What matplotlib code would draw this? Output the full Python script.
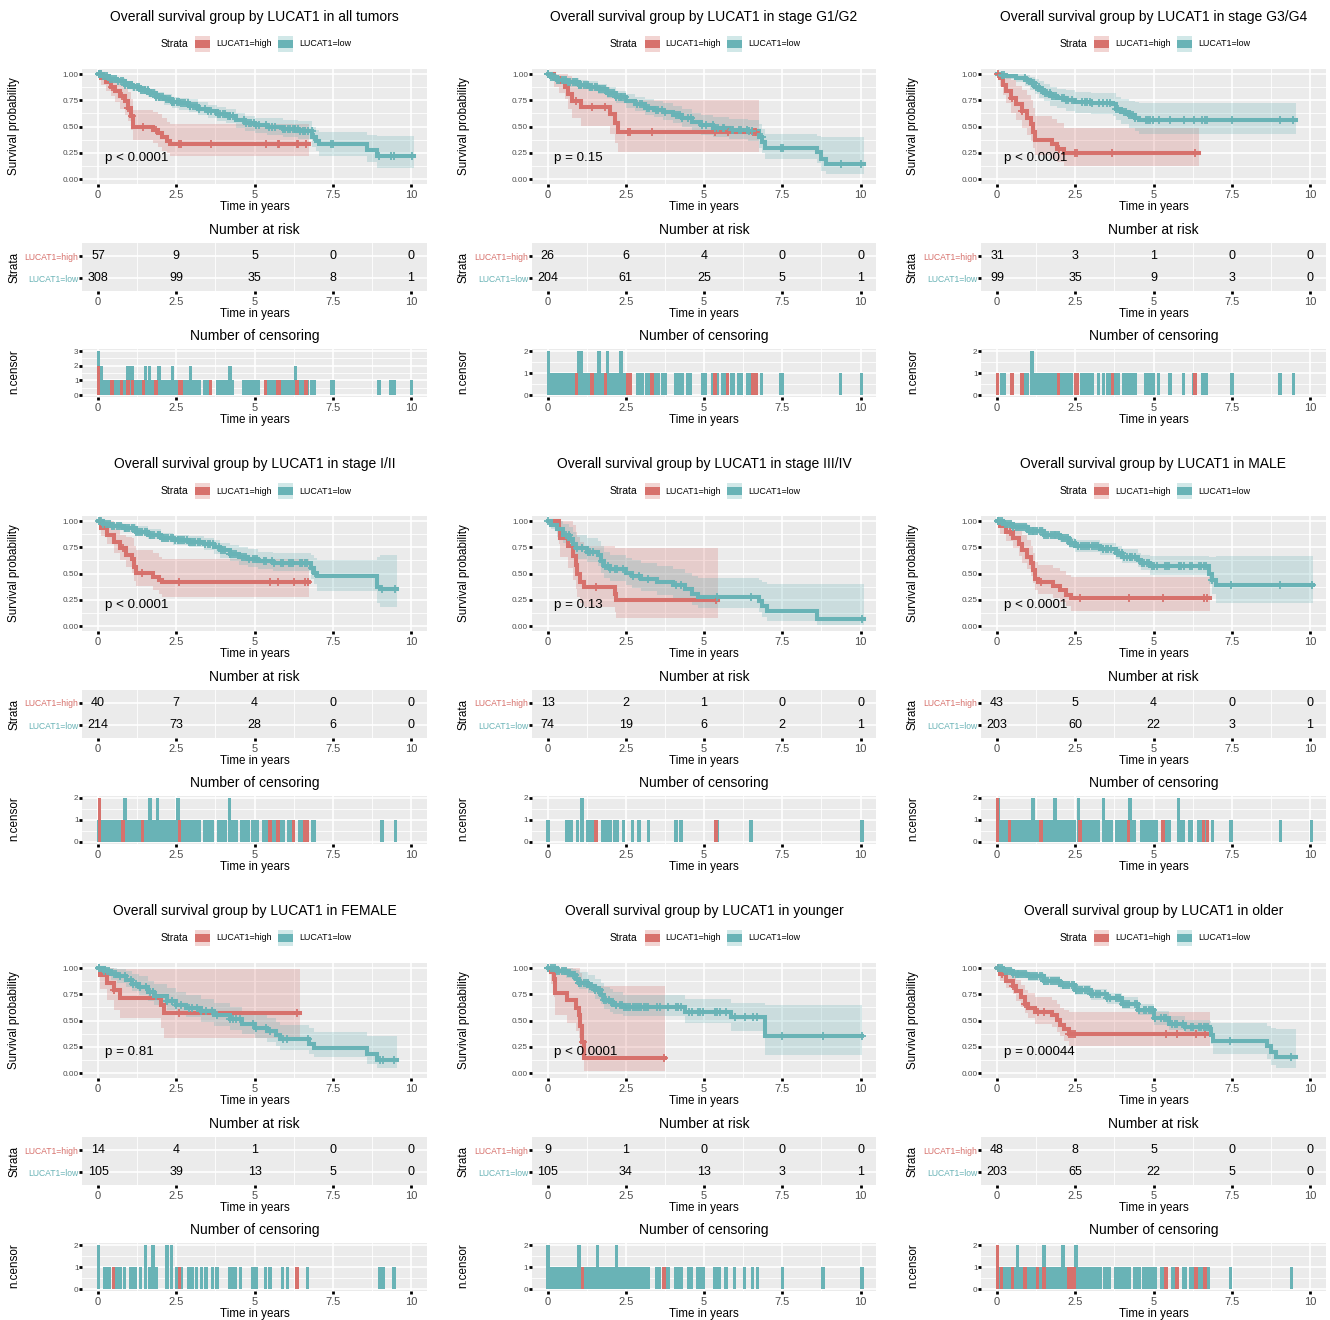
import numpy as np
import matplotlib.pyplot as plt
from matplotlib.patches import Rectangle

plt.rcParams['font.family'] = ['Liberation Sans', 'DejaVu Sans']

W, H = 1330, 1320
RED = '#D7716C'
TEAL = '#69B3B6'
BG = '#EBEBEB'
GREY = '#4D4D4D'

titles = ['Overall survival group by LUCAT1 in all tumors',
          'Overall survival group by LUCAT1 in stage G1/G2',
          'Overall survival group by LUCAT1 in stage G3/G4',
          'Overall survival group by LUCAT1 in stage I/II',
          'Overall survival group by LUCAT1 in stage III/IV',
          'Overall survival group by LUCAT1 in MALE',
          'Overall survival group by LUCAT1 in FEMALE',
          'Overall survival group by LUCAT1 in younger',
          'Overall survival group by LUCAT1 in older']
pvals = ['p < 0.0001', 'p = 0.15', 'p < 0.0001',
         'p < 0.0001', 'p = 0.13', 'p < 0.0001',
         'p = 0.81', 'p < 0.0001', 'p = 0.00044']

# number at risk at 0, 2.5, 5, 7.5, 10
risk_high = [[57, 9, 5, 0, 0], [26, 6, 4, 0, 0], [31, 3, 1, 0, 0],
             [40, 7, 4, 0, 0], [13, 2, 1, 0, 0], [43, 5, 4, 0, 0],
             [14, 4, 1, 0, 0], [9, 1, 0, 0, 0], [48, 8, 5, 0, 0]]
risk_low = [[308, 99, 35, 8, 1], [204, 61, 25, 5, 1], [99, 35, 9, 3, 0],
            [214, 73, 28, 6, 0], [74, 19, 6, 2, 1], [203, 60, 22, 3, 1],
            [105, 39, 13, 5, 0], [105, 34, 13, 3, 1], [203, 65, 22, 5, 0]]

# KM step knots (time where survival changes), survival, CI lower/upper, last follow-up
high_t = [[0, 0.1, 0.25, 0.4, 0.55, 0.7, 0.85, 0.95, 1.05, 1.12, 1.75, 1.9, 2.05, 2.2, 2.3],
          [0, 0.2, 0.35, 0.55, 0.65, 0.78, 1.08, 2.0, 2.15, 2.25],
          [0, 0.1, 0.2, 0.3, 0.45, 0.6, 0.8, 0.95, 1.1, 1.15, 1.2, 1.75, 1.9, 2.15],
          [0, 0.1, 0.3, 0.5, 0.7, 0.9, 1.1, 1.15, 1.2, 1.75, 1.95, 2.05],
          [0, 0.35, 0.4, 0.65, 0.8, 0.9, 0.95, 1.05, 1.15, 2.15, 2.2],
          [0, 0.1, 0.3, 0.5, 0.7, 0.8, 0.95, 1.1, 1.15, 1.2, 1.3, 1.8, 2.0, 2.2, 2.35],
          [0, 0.05, 0.3, 0.5, 0.7, 2.0, 2.1],
          [0, 0.12, 0.2, 0.25, 0.62, 0.9, 1.0, 1.05, 1.1, 1.15],
          [0, 0.1, 0.3, 0.5, 0.6, 0.75, 0.9, 1.0, 1.2, 1.75, 1.9, 2.0, 2.15, 2.3]]
high_s = [[1.0, 0.96, 0.92, 0.88, 0.84, 0.79, 0.74, 0.68, 0.60, 0.50, 0.47, 0.44, 0.40, 0.36, 0.33],
          [1.0, 0.96, 0.92, 0.88, 0.81, 0.74, 0.69, 0.62, 0.53, 0.445],
          [1.0, 0.96, 0.90, 0.84, 0.77, 0.71, 0.65, 0.58, 0.52, 0.45, 0.37, 0.33, 0.29, 0.25],
          [1.0, 0.93, 0.87, 0.80, 0.74, 0.68, 0.64, 0.56, 0.51, 0.47, 0.44, 0.42],
          [1.0, 0.92, 0.84, 0.76, 0.67, 0.58, 0.50, 0.42, 0.37, 0.31, 0.25],
          [1.0, 0.95, 0.90, 0.84, 0.78, 0.72, 0.66, 0.60, 0.53, 0.45, 0.42, 0.38, 0.34, 0.30, 0.27],
          [1.0, 0.93, 0.86, 0.79, 0.71, 0.65, 0.575],
          [1.0, 0.96, 0.90, 0.76, 0.70, 0.62, 0.55, 0.45, 0.30, 0.14],
          [1.0, 0.94, 0.88, 0.83, 0.78, 0.72, 0.66, 0.62, 0.58, 0.55, 0.505, 0.46, 0.42, 0.37]]
high_lo = [[1.0, 0.90, 0.84, 0.79, 0.73, 0.67, 0.61, 0.55, 0.47, 0.37, 0.34, 0.31, 0.27, 0.25, 0.22],
           [1.0, 0.88, 0.82, 0.76, 0.67, 0.58, 0.51, 0.43, 0.34, 0.26],
           [1.0, 0.89, 0.80, 0.72, 0.63, 0.56, 0.49, 0.42, 0.36, 0.30, 0.23, 0.19, 0.16, 0.12],
           [1.0, 0.86, 0.78, 0.70, 0.63, 0.56, 0.51, 0.43, 0.38, 0.34, 0.31, 0.28],
           [1.0, 0.78, 0.66, 0.55, 0.44, 0.35, 0.28, 0.22, 0.18, 0.13, 0.08],
           [1.0, 0.88, 0.81, 0.74, 0.67, 0.60, 0.54, 0.48, 0.41, 0.34, 0.31, 0.27, 0.23, 0.19, 0.14],
           [1.0, 0.80, 0.70, 0.60, 0.52, 0.43, 0.33],
           [1.0, 0.85, 0.72, 0.55, 0.48, 0.40, 0.33, 0.24, 0.12, 0.02],
           [1.0, 0.88, 0.81, 0.75, 0.69, 0.63, 0.57, 0.52, 0.47, 0.44, 0.39, 0.35, 0.31, 0.26]]
high_up = [[1.0, 1.0, 0.99, 0.96, 0.94, 0.91, 0.87, 0.83, 0.76, 0.66, 0.64, 0.62, 0.58, 0.54, 0.52],
           [1.0, 1.0, 1.0, 1.0, 0.98, 0.93, 0.88, 0.84, 0.78, 0.75],
           [1.0, 1.0, 1.0, 0.98, 0.94, 0.89, 0.85, 0.80, 0.75, 0.68, 0.60, 0.57, 0.53, 0.49],
           [1.0, 1.0, 1.0, 0.92, 0.87, 0.85, 0.84, 0.76, 0.72, 0.70, 0.66, 0.64],
           [1.0, 1.0, 1.0, 1.0, 0.96, 0.90, 0.85, 0.80, 0.76, 0.74, 0.74],
           [1.0, 1.0, 0.99, 0.96, 0.91, 0.87, 0.82, 0.76, 0.70, 0.61, 0.58, 0.55, 0.52, 0.49, 0.47],
           [1.0, 1.0, 1.0, 0.99, 0.99, 0.99, 0.99],
           [1.0, 1.0, 1.0, 1.0, 1.0, 1.0, 1.0, 0.95, 0.89, 0.83],
           [1.0, 1.0, 0.97, 0.93, 0.89, 0.84, 0.79, 0.76, 0.72, 0.70, 0.66, 0.62, 0.60, 0.58]]
high_end = [6.75, 6.75, 6.45, 6.75, 5.45, 6.8, 6.45, 3.75, 6.8]

low_t = [[0, 0.15, 0.35, 0.6, 0.85, 1.1, 1.35, 1.6, 1.85, 2.1, 2.35, 2.6, 2.9, 3.2, 3.5, 3.8, 4.1, 4.4, 4.7, 5.0, 5.4, 5.9, 6.4, 6.85, 6.95, 7.05, 8.6, 8.9],
         [0, 0.1, 0.3, 0.6, 1.0, 1.3, 1.6, 1.9, 2.2, 2.5, 2.8, 3.1, 3.4, 3.7, 4.0, 4.3, 4.6, 4.9, 5.3, 5.8, 6.4, 6.75, 6.85, 6.95, 8.6, 8.75, 8.9],
         [0, 0.1, 0.3, 0.6, 0.9, 1.05, 1.2, 1.35, 1.5, 1.7, 1.9, 2.2, 2.5, 3.0, 3.7, 3.8, 3.95, 4.2, 4.4, 4.55],
         [0, 0.15, 0.4, 0.8, 1.2, 1.6, 2.0, 2.4, 2.9, 3.4, 3.7, 3.9, 4.2, 4.5, 4.8, 5.1, 5.6, 6.8, 6.9, 7.0, 8.9, 9.0],
         [0, 0.1, 0.3, 0.5, 0.7, 0.8, 0.9, 1.25, 1.6, 1.7, 1.8, 2.0, 2.5, 2.7, 3.0, 3.5, 4.0, 4.4, 4.6, 4.8, 6.75, 6.85, 7.0, 8.6],
         [0, 0.2, 0.5, 1.0, 1.5, 2.0, 2.3, 2.5, 3.3, 3.8, 4.0, 4.5, 4.6, 4.9, 6.78, 6.88, 7.0],
         [0, 0.2, 0.4, 0.6, 0.9, 1.1, 1.3, 1.6, 1.8, 2.2, 2.5, 2.8, 3.3, 3.7, 4.2, 4.6, 5.0, 5.4, 5.7, 5.8, 6.75, 6.9, 8.6, 8.9],
         [0, 0.3, 0.6, 0.8, 0.9, 1.0, 1.3, 1.5, 1.7, 1.8, 2.0, 2.1, 2.4, 4.4, 5.85, 6.95],
         [0, 0.2, 0.5, 1.0, 1.5, 2.0, 2.5, 3.0, 3.5, 4.0, 4.5, 5.0, 5.5, 6.0, 6.8, 6.85, 6.9, 8.62, 8.75, 8.9]]
low_s = [[1.0, 0.98, 0.95, 0.93, 0.90, 0.88, 0.85, 0.82, 0.78, 0.76, 0.73, 0.72, 0.70, 0.67, 0.65, 0.62, 0.60, 0.56, 0.53, 0.51, 0.50, 0.48, 0.46, 0.40, 0.36, 0.33, 0.28, 0.22],
         [1.0, 0.97, 0.94, 0.92, 0.90, 0.88, 0.86, 0.82, 0.78, 0.74, 0.71, 0.68, 0.66, 0.64, 0.61, 0.58, 0.54, 0.51, 0.49, 0.47, 0.46, 0.40, 0.35, 0.30, 0.26, 0.19, 0.14],
         [1.0, 0.99, 0.98, 0.96, 0.94, 0.91, 0.88, 0.85, 0.82, 0.79, 0.77, 0.75, 0.73, 0.72, 0.71, 0.67, 0.64, 0.61, 0.58, 0.56],
         [1.0, 0.97, 0.95, 0.93, 0.90, 0.87, 0.84, 0.82, 0.80, 0.78, 0.75, 0.72, 0.69, 0.66, 0.64, 0.62, 0.60, 0.55, 0.51, 0.48, 0.37, 0.35],
         [1.0, 0.96, 0.92, 0.87, 0.83, 0.78, 0.74, 0.71, 0.68, 0.62, 0.57, 0.54, 0.51, 0.48, 0.45, 0.42, 0.39, 0.35, 0.31, 0.28, 0.24, 0.19, 0.14, 0.07],
         [1.0, 0.97, 0.94, 0.91, 0.87, 0.84, 0.79, 0.76, 0.73, 0.70, 0.66, 0.63, 0.60, 0.57, 0.50, 0.44, 0.39],
         [1.0, 0.97, 0.94, 0.92, 0.89, 0.85, 0.82, 0.77, 0.73, 0.69, 0.65, 0.62, 0.59, 0.55, 0.51, 0.47, 0.43, 0.40, 0.36, 0.32, 0.28, 0.24, 0.18, 0.12],
         [1.0, 0.97, 0.95, 0.93, 0.90, 0.86, 0.83, 0.79, 0.74, 0.70, 0.675, 0.65, 0.63, 0.58, 0.53, 0.35],
         [1.0, 0.97, 0.94, 0.92, 0.88, 0.84, 0.79, 0.75, 0.71, 0.66, 0.60, 0.52, 0.47, 0.44, 0.42, 0.36, 0.31, 0.26, 0.20, 0.15]]
low_lo = [[1.0, 0.96, 0.93, 0.90, 0.87, 0.84, 0.81, 0.78, 0.74, 0.71, 0.68, 0.66, 0.64, 0.61, 0.58, 0.55, 0.53, 0.49, 0.46, 0.44, 0.42, 0.40, 0.38, 0.31, 0.27, 0.22, 0.16, 0.11],
          [1.0, 0.95, 0.91, 0.88, 0.86, 0.84, 0.81, 0.77, 0.72, 0.68, 0.65, 0.61, 0.59, 0.56, 0.53, 0.50, 0.46, 0.42, 0.40, 0.38, 0.36, 0.30, 0.25, 0.19, 0.15, 0.08, 0.05],
          [1.0, 0.97, 0.95, 0.92, 0.89, 0.85, 0.81, 0.77, 0.74, 0.70, 0.68, 0.65, 0.63, 0.62, 0.60, 0.56, 0.52, 0.49, 0.46, 0.43],
          [1.0, 0.95, 0.92, 0.90, 0.87, 0.83, 0.80, 0.77, 0.75, 0.72, 0.69, 0.65, 0.62, 0.58, 0.56, 0.54, 0.52, 0.45, 0.40, 0.33, 0.22, 0.18],
          [1.0, 0.92, 0.85, 0.79, 0.74, 0.69, 0.64, 0.61, 0.57, 0.51, 0.46, 0.43, 0.39, 0.36, 0.33, 0.30, 0.27, 0.23, 0.20, 0.17, 0.13, 0.09, 0.05, 0.01],
          [1.0, 0.95, 0.91, 0.88, 0.83, 0.80, 0.74, 0.71, 0.68, 0.64, 0.60, 0.56, 0.53, 0.49, 0.40, 0.31, 0.22],
          [1.0, 0.93, 0.89, 0.86, 0.82, 0.78, 0.74, 0.69, 0.65, 0.60, 0.56, 0.53, 0.49, 0.45, 0.41, 0.37, 0.33, 0.30, 0.26, 0.22, 0.18, 0.15, 0.09, 0.05],
          [1.0, 0.94, 0.91, 0.88, 0.84, 0.80, 0.76, 0.71, 0.66, 0.61, 0.58, 0.56, 0.54, 0.48, 0.40, 0.17],
          [1.0, 0.95, 0.91, 0.88, 0.84, 0.80, 0.74, 0.70, 0.66, 0.61, 0.55, 0.46, 0.41, 0.38, 0.35, 0.28, 0.18, 0.13, 0.08, 0.05]]
low_up = [[1.0, 1.0, 0.97, 0.96, 0.93, 0.91, 0.89, 0.86, 0.83, 0.81, 0.78, 0.77, 0.76, 0.73, 0.71, 0.69, 0.67, 0.63, 0.60, 0.58, 0.58, 0.56, 0.55, 0.50, 0.47, 0.45, 0.42, 0.41],
          [1.0, 1.0, 0.97, 0.96, 0.94, 0.93, 0.91, 0.88, 0.84, 0.81, 0.78, 0.76, 0.74, 0.72, 0.70, 0.67, 0.63, 0.61, 0.59, 0.57, 0.56, 0.52, 0.48, 0.43, 0.41, 0.40, 0.40],
          [1.0, 1.0, 1.0, 1.0, 0.99, 0.97, 0.95, 0.93, 0.91, 0.88, 0.86, 0.85, 0.83, 0.82, 0.82, 0.78, 0.76, 0.74, 0.73, 0.72],
          [1.0, 0.99, 0.98, 0.97, 0.95, 0.92, 0.89, 0.87, 0.86, 0.84, 0.82, 0.79, 0.77, 0.75, 0.73, 0.71, 0.70, 0.68, 0.65, 0.63, 0.66, 0.68],
          [1.0, 1.0, 1.0, 0.97, 0.94, 0.90, 0.87, 0.84, 0.81, 0.76, 0.71, 0.68, 0.65, 0.63, 0.60, 0.57, 0.54, 0.51, 0.48, 0.46, 0.44, 0.42, 0.40, 0.40],
          [1.0, 0.99, 0.97, 0.94, 0.91, 0.88, 0.84, 0.82, 0.79, 0.76, 0.73, 0.70, 0.68, 0.67, 0.66, 0.66, 0.67],
          [1.0, 1.0, 1.0, 0.99, 0.97, 0.94, 0.92, 0.88, 0.85, 0.81, 0.77, 0.74, 0.71, 0.67, 0.63, 0.59, 0.55, 0.52, 0.49, 0.46, 0.43, 0.39, 0.35, 0.35],
          [1.0, 1.0, 1.0, 0.99, 0.98, 0.96, 0.93, 0.90, 0.86, 0.82, 0.80, 0.77, 0.74, 0.71, 0.67, 0.65],
          [1.0, 1.0, 0.97, 0.95, 0.92, 0.88, 0.84, 0.80, 0.76, 0.72, 0.66, 0.59, 0.54, 0.51, 0.50, 0.48, 0.48, 0.45, 0.43, 0.42]]
low_end = [10.1, 10.1, 9.55, 9.55, 10.1, 10.1, 9.55, 10.05, 9.55]

# censoring times, one entry per censored patient
cens_high = [[0.02, 0.02, 0.45, 0.75, 0.95, 1.1, 1.45, 1.85, 2.6, 2.65, 3.6, 5.35, 5.75, 5.78, 6.35, 6.38, 6.65],
             [0.92, 1.42, 1.85, 2.57, 2.63, 3.33, 5.35, 5.75, 6.55, 6.62, 6.67],
             [0.02, 0.48, 0.8, 1.97, 2.5, 2.56, 3.68, 6.33],
             [0.05, 0.05, 0.8, 1.42, 2.6, 5.5, 5.75, 6.25, 6.6, 6.7],
             [1.55, 5.38],
             [0.02, 0.02, 0.4, 1.4, 2.65, 4.2, 5.3, 6.6, 6.72],
             [0.5, 2.6, 6.35],
             [1.12, 3.72],
             [0.02, 0.02, 0.15, 0.5, 0.9, 1.3, 1.5, 2.3, 2.36, 2.42, 2.48, 5.4, 5.75, 6.35, 6.65]]
cens_low = [[0.02, 0.02, 0.02, 0.09, 0.09, 0.16, 0.23, 0.3, 0.37, 0.44, 0.51, 0.58, 0.65, 0.72, 0.79, 0.86,
             0.95, 0.95, 1.02, 1.02, 1.09, 1.09, 1.16, 1.23, 1.3, 1.37, 1.44, 1.51, 1.51, 1.58, 1.65, 1.65,
             1.72, 1.79, 1.86, 1.95, 1.95, 2.02, 2.09, 2.16, 2.23, 2.3, 2.37, 2.37, 2.44, 2.51, 2.58, 2.65,
             2.72, 2.79, 2.86, 2.95, 2.95, 3.02, 3.09, 3.16, 3.23, 3.42, 3.5, 3.6, 3.82, 3.9, 3.98, 4.06,
             4.14, 4.22, 4.22, 4.3, 4.65, 4.73, 4.81, 4.89, 4.97, 5.05, 5.13, 5.38, 5.46, 5.56, 5.66, 5.9,
             5.98, 6.06, 6.14, 6.22, 6.3, 6.3, 6.38, 6.46, 6.54, 6.62, 6.7, 6.82, 6.9, 7.45, 7.52, 8.97,
             9.35, 9.45, 10.02],
            [0.03, 0.03, 0.1, 0.17, 0.24, 0.31, 0.38, 0.45, 0.52, 0.59, 0.66, 0.73, 0.8, 0.87, 0.94, 1.01,
             1.01, 1.08, 1.08, 1.15, 1.22, 1.29, 1.36, 1.43, 1.5, 1.57, 1.64, 1.64, 1.71, 1.78, 1.85, 1.92,
             1.92, 1.99, 2.06, 2.13, 2.2, 2.27, 2.34, 2.34, 2.41, 2.48, 2.87, 2.95, 3.03, 3.17, 3.23, 3.46,
             3.53, 3.67, 3.76, 4.1, 4.17, 4.24, 4.31, 4.48, 4.57, 4.95, 5.05, 5.27, 5.35, 5.43, 5.59, 5.65,
             5.88, 5.94, 6.12, 6.18, 6.38, 6.45, 6.53, 6.84, 7.46, 7.51, 9.36, 10.03],
            [0.15, 0.23, 0.88, 0.96, 1.12, 1.12, 1.19, 1.26, 1.33, 1.4, 1.47, 1.54, 1.61, 1.68, 1.75, 1.82,
             1.89, 2.07, 2.14, 2.21, 2.28, 2.38, 2.72, 2.8, 2.88, 2.96, 3.04, 3.25, 3.4, 3.52, 3.6, 3.8,
             3.88, 4.06, 4.13, 4.2, 4.27, 4.34, 4.41, 4.75, 4.82, 4.9, 4.98, 5.16, 5.53, 5.96, 6.28, 6.56,
             6.63, 6.7, 7.5, 9.04, 9.47],
            [0.03, 0.1, 0.17, 0.24, 0.31, 0.38, 0.45, 0.52, 0.59, 0.66, 0.73, 0.86, 0.86, 0.93, 1.0, 1.07,
             1.14, 1.21, 1.28, 1.35, 1.42, 1.49, 1.56, 1.66, 1.66, 1.73, 1.8, 1.9, 1.9, 1.97, 2.04, 2.11,
             2.18, 2.25, 2.32, 2.39, 2.46, 2.55, 2.55, 2.62, 2.69, 2.76, 2.83, 2.9, 2.97, 3.04, 3.11, 3.18,
             3.25, 3.42, 3.5, 3.58, 3.66, 3.85, 3.92, 4.0, 4.07, 4.2, 4.2, 4.27, 4.34, 4.41, 4.6, 4.67,
             4.74, 4.81, 4.95, 5.02, 5.09, 5.3, 5.37, 5.55, 5.62, 5.85, 5.92, 6.1, 6.17, 6.24, 6.45, 6.52,
             6.6, 6.67, 6.85, 6.92, 9.07, 9.5],
            [0.02, 0.6, 0.68, 0.76, 0.95, 1.1, 1.1, 1.28, 1.36, 1.46, 1.75, 1.83, 1.92, 2.0, 2.15, 2.23,
             2.42, 2.72, 2.92, 3.22, 4.1, 4.27, 5.42, 6.5, 10.05],
            [0.03, 0.03, 0.1, 0.17, 0.24, 0.31, 0.38, 0.45, 0.52, 0.59, 0.66, 0.73, 0.8, 0.87, 0.94, 1.01,
             1.08, 1.15, 1.15, 1.22, 1.29, 1.36, 1.43, 1.5, 1.57, 1.64, 1.71, 1.78, 1.85, 1.85, 1.92, 1.99,
             2.06, 2.13, 2.2, 2.27, 2.34, 2.41, 2.48, 2.6, 2.6, 2.67, 2.74, 2.81, 2.88, 2.95, 3.02, 3.09,
             3.16, 3.23, 3.4, 3.4, 3.48, 3.56, 3.64, 3.82, 3.9, 3.98, 4.06, 4.14, 4.25, 4.25, 4.32, 4.4,
             4.62, 4.7, 4.78, 4.86, 4.94, 5.02, 5.1, 5.35, 5.42, 5.5, 5.8, 5.8, 5.88, 5.96, 6.15, 6.22,
             6.45, 6.52, 6.6, 6.68, 6.88, 7.48, 9.05, 10.05],
            [0.02, 0.02, 0.2, 0.28, 0.36, 0.5, 0.58, 0.7, 0.85, 1.05, 1.12, 1.2, 1.35, 1.52, 1.52, 1.65,
             1.75, 1.75, 1.85, 2.2, 2.2, 2.35, 2.35, 2.5, 2.65, 2.9, 3.0, 3.15, 3.3, 3.45, 3.65, 3.8, 4.2,
             4.3, 4.4, 4.55, 4.95, 5.05, 5.35, 5.5, 5.9, 6.05, 6.7, 9.0, 9.1, 9.45],
            [0.02, 0.02, 0.1, 0.17, 0.24, 0.31, 0.38, 0.45, 0.52, 0.59, 0.66, 0.73, 0.8, 0.87, 0.94, 1.01,
             1.01, 1.08, 1.15, 1.22, 1.29, 1.36, 1.43, 1.5, 1.6, 1.6, 1.67, 1.74, 1.81, 1.88, 1.95, 2.02,
             2.09, 2.2, 2.2, 2.3, 2.37, 2.44, 2.51, 2.58, 2.65, 2.72, 2.79, 2.86, 2.93, 3.0, 3.07, 3.14,
             3.21, 3.5, 3.58, 3.85, 4.1, 4.18, 4.26, 4.52, 4.6, 4.8, 4.88, 4.96, 5.35, 5.42, 5.5, 5.7,
             5.98, 6.3, 6.55, 6.7, 7.5, 8.8, 10.05],
            [0.03, 0.1, 0.17, 0.24, 0.31, 0.38, 0.45, 0.52, 0.59, 0.66, 0.66, 0.73, 0.8, 0.87, 0.94, 1.01,
             1.08, 1.15, 1.22, 1.29, 1.36, 1.43, 1.5, 1.5, 1.57, 1.64, 1.71, 1.78, 1.85, 1.92, 1.99, 2.1,
             2.1, 2.17, 2.24, 2.31, 2.38, 2.45, 2.52, 2.52, 2.59, 2.66, 2.73, 2.8, 2.87, 2.94, 3.01, 3.08,
             3.15, 3.22, 3.29, 3.45, 3.52, 3.6, 3.8, 3.87, 3.94, 4.01, 4.08, 4.15, 4.22, 4.4, 4.47, 4.54,
             4.7, 4.77, 4.84, 4.91, 4.98, 5.05, 5.25, 5.32, 5.4, 5.6, 5.67, 5.74, 5.95, 6.02, 6.2, 6.27,
             6.45, 6.52, 6.6, 6.67, 6.74, 7.45, 9.4]]

xt = [0, 2.5, 5, 7.5, 10]
xtl = ['0', '2.5', '5', '7.5', '10']
xminor = [1.25, 3.75, 6.25, 8.75]

fig = plt.figure(figsize=(W / 100, H / 100), dpi=100)


def add_ax(x0, y0, x1, y1):
    return fig.add_axes([x0 / W, 1 - y1 / H, (x1 - x0) / W, (y1 - y0) / H])


def ftext(x, y, s, **kw):
    fig.text(x / W, 1 - y / H, s, **kw)


def key(x, y, c):
    fig.add_artist(Rectangle((x / W, 1 - (y + 16) / H), 15 / W, 16 / H,
                             transform=fig.transFigure, facecolor=c, alpha=0.3, lw=0))
    fig.add_artist(Rectangle((x / W, 1 - (y + 12) / H), 15 / W, 8 / H,
                             transform=fig.transFigure, facecolor=c, lw=0))


def base(ax, ymaj, ymin, xmaj_lines=True):
    ax.set_facecolor(BG)
    for sp in ax.spines.values():
        sp.set_visible(False)
    ax.set_xlim(-0.5, 10.5)
    for v in xminor:
        ax.axvline(v, color='white', lw=0.6, zorder=0.5)
    if xmaj_lines:
        for v in xt:
            ax.axvline(v, color='white', lw=1.2, zorder=0.5)
    for v in ymin:
        ax.axhline(v, color='white', lw=0.6, zorder=0.5)
    for v in ymaj:
        ax.axhline(v, color='white', lw=1.2, zorder=0.5)
    ax.set_xticks(xt)
    ax.set_xticklabels(xtl)
    ax.tick_params(axis='both', length=2, width=2, color='black')
    ax.tick_params(axis='x', labelsize=8, labelcolor=GREY, pad=2.2)
    ax.tick_params(axis='y', labelsize=5.9, labelcolor=GREY, pad=0.8)


def step_val(t, s, x):
    i = np.searchsorted(t, x, side='right') - 1
    return np.asarray(s)[i]


cx = [0, 449.5, 899]
ry = [0, 447, 894]

for k in range(9):
    ox = cx[k % 3]
    oy = ry[k // 3]
    mid = ox + 254.5

    # title and legend
    ftext(mid, oy + 17.5, titles[k], ha='center', va='center', fontsize=10)
    ftext(ox + 174, oy + 44, 'Strata', ha='center', va='center', fontsize=7.5)
    key(ox + 195, oy + 36, RED)
    ftext(ox + 216, oy + 44, 'LUCAT1=high', ha='left', va='center', fontsize=6.4)
    key(ox + 278, oy + 36, TEAL)
    ftext(ox + 299, oy + 44, 'LUCAT1=low', ha='left', va='center', fontsize=6.4)

    # survival curves
    ax = add_ax(ox + 82.4, oy + 68.8, ox + 426.7, oy + 184.3)
    base(ax, [0, 0.25, 0.5, 0.75, 1.0], [0.125, 0.375, 0.625, 0.875])
    ax.set_ylim(-0.05, 1.05)
    ax.set_yticks([0, 0.25, 0.5, 0.75, 1.0])
    ax.set_yticklabels(['0.00', '0.25', '0.50', '0.75', '1.00'])
    groups = [(high_t[k], high_s[k], high_lo[k], high_up[k], high_end[k], cens_high[k], RED),
              (low_t[k], low_s[k], low_lo[k], low_up[k], low_end[k], cens_low[k], TEAL)]
    for t, s, lo, up, end, ce, c in groups:
        tt = list(t) + [end]
        ax.fill_between(tt, list(lo) + [lo[-1]], list(up) + [up[-1]], step='post',
                        color=c, alpha=0.25, lw=0, zorder=1)
    for t, s, lo, up, end, ce, c in groups:
        tt = list(t) + [end]
        ax.plot(tt, list(s) + [s[-1]], drawstyle='steps-post', color=c, lw=2.9,
                solid_joinstyle='miter', zorder=2)
        ct = np.array([v for v in ce if v <= end])
        ax.plot(ct, step_val(t, s, ct), ls='none', marker='+', ms=5.5, mew=1.3,
                color=c, zorder=3)
    ax.text(0.22, 0.2, pvals[k], ha='left', va='center', fontsize=9.6)
    ftext(mid, oy + 207, 'Time in years', ha='center', va='center', fontsize=8.4)
    ftext(ox + 14, oy + 126, 'Survival probability', ha='center', va='center',
          rotation=90, fontsize=8.4)

    # number at risk table
    ax = add_ax(ox + 82.4, oy + 242.8, ox + 426.7, oy + 291.2)
    base(ax, [1, 2], [], xmaj_lines=False)
    ax.set_ylim(0.4, 2.6)
    ax.set_yticks([1, 2])
    ax.set_yticklabels(['LUCAT1=low', 'LUCAT1=high'])
    ax.tick_params(axis='y', labelsize=6.2)
    for lab, c in zip(ax.get_yticklabels(), [TEAL, RED]):
        lab.set_color(c)
    for xi, v in zip(xt, risk_high[k]):
        ax.text(xi, 2, str(v), ha='center', va='center', fontsize=9)
    for xi, v in zip(xt, risk_low[k]):
        ax.text(xi, 1, str(v), ha='center', va='center', fontsize=9)
    ftext(mid, oy + 230, 'Number at risk', ha='center', va='center', fontsize=10)
    ftext(mid, oy + 314, 'Time in years', ha='center', va='center', fontsize=8.4)
    ftext(ox + 14, oy + 267, 'Strata', ha='center', va='center', rotation=90, fontsize=8.4)

    # number of censoring
    tl, nl = np.unique(cens_low[k], return_counts=True)
    th, nh = np.unique(cens_high[k], return_counts=True)
    ymax = int(max(nl.max(), nh.max()))
    ax = add_ax(ox + 82.4, oy + 348.8, ox + 426.7, oy + 397.2)
    base(ax, list(range(ymax + 1)), [i + 0.5 for i in range(ymax)])
    ax.set_ylim(-0.05 * ymax, 1.05 * ymax)
    ax.set_yticks(list(range(ymax + 1)))
    ax.bar(tl, nl, width=0.11, color=TEAL, zorder=2)
    ax.bar(th, nh, width=0.11, color=RED, zorder=3)
    ftext(mid, oy + 336, 'Number of censoring', ha='center', va='center', fontsize=10)
    ftext(mid, oy + 420, 'Time in years', ha='center', va='center', fontsize=8.4)
    ftext(ox + 14, oy + 372, 'n.censor', ha='center', va='center', rotation=90, fontsize=8.4)

fig.savefig('out.png', dpi=100, facecolor='white')
